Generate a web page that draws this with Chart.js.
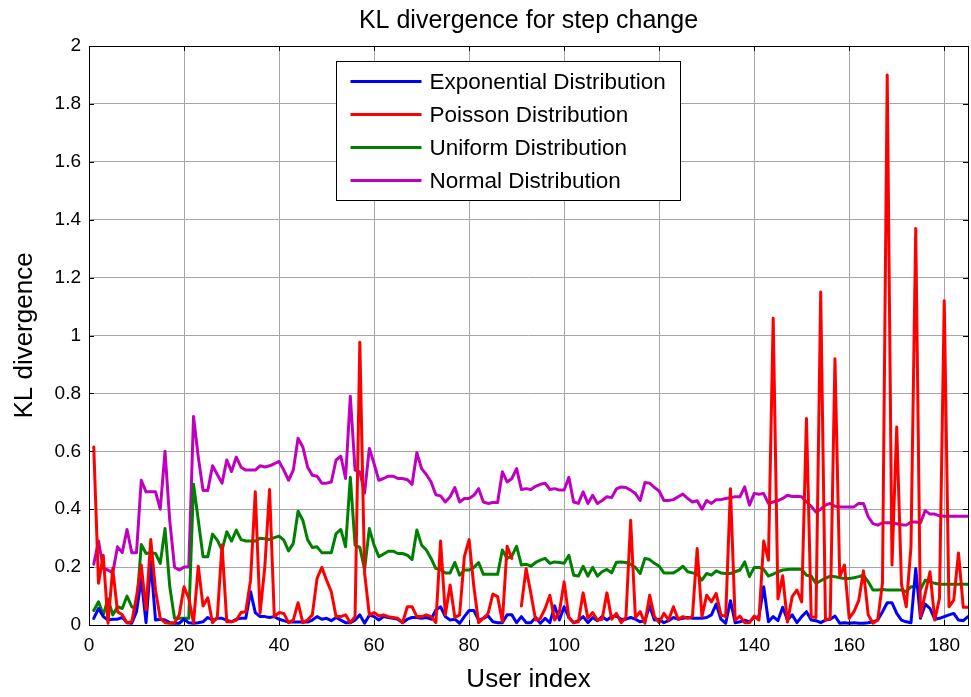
<!DOCTYPE html>
<html>
<head>
<meta charset="utf-8">
<script src="https://cdn.jsdelivr.net/npm/chart.js@4.4.1/dist/chart.umd.min.js"></script>
<style>
  html, body { margin: 0; padding: 0; background: #ffffff; }
  #wrap { width: 971px; height: 697px; position: relative; }
</style>
</head>
<body>
<div id="wrap"><canvas id="c" width="971" height="697"></canvas></div>
<script>
// ---------- data ----------
const userIndex = Array.from({ length: 185 }, (_, k) => k + 1);

const seriesLabels = ['Exponential Distribution', 'Poisson Distribution', 'Uniform Distribution', 'Normal Distribution'];

const exponential = [
  0.023,0.057,0.029,0.017,0.02,0.02,0.026,0.008,0.006,0.046,
  0.16,0.008,0.22,0.017,0.02,0.017,0.008,0.006,0.006,0.02,
  0.008,0.006,0.008,0.011,0.026,0.017,0.023,0.023,0.017,0.011,
  0.02,0.023,0.023,0.115,0.043,0.029,0.029,0.026,0.029,0.02,
  0.015,0.01,0.01,0.01,0.01,0.01,0.017,0.029,0.02,0.023,
  0.015,0.026,0.017,0.008,0.008,0.017,0.035,0.006,0.034,0.029,
  0.017,0.029,0.026,0.023,0.02,0.008,0.02,0.026,0.026,0.023,
  0.026,0.02,0.052,0.063,0.029,0.017,0.02,0.006,0.029,0.05,
  0.05,0.017,0.023,0.031,0.011,0.008,0.008,0.035,0.035,0.008,
  0.029,0.008,0.008,0.026,0.006,0.023,0.008,0.066,0.017,0.063,
  0.026,0.008,0.015,0.029,0.008,0.026,0.015,0.029,0.017,0.029,
  0.031,0.02,0.02,0.026,0.02,0.011,0.015,0.066,0.017,0.02,
  0.008,0.015,0.026,0.02,0.023,0.026,0.023,0.023,0.023,0.026,
  0.035,0.072,0.02,0.006,0.084,0.008,0.011,0.017,0.011,0.026,
  0.029,0.132,0.011,0.029,0.015,0.061,0.017,0.035,0.008,0.029,
  0.046,0.017,0.015,0.008,0.017,0.02,0.031,0.006,0.008,0.006,
  0.008,0.006,0.006,0.008,0.011,0.017,0.046,0.077,0.077,0.04,
  0.017,0.011,0.008,0.195,0.023,0.072,0.057,0.02,0.023,0.029,
  0.035,0.04,0.017,0.015,0.029
];

const poisson = [
  0.615,0.144,0.241,0.006,0.195,0.046,0.035,0.008,0.011,0.098,
  0.207,0.052,0.295,0.12,0.023,0.008,0.006,0.008,0.035,0.132,
  0.092,0.008,0.203,0.066,0.094,0.008,0.026,0.276,0.011,0.011,
  0.017,0.043,0.046,0.155,0.46,0.04,0.2,0.468,0.029,0.043,
  0.04,0.008,0.017,0.077,0.008,0.017,0.035,0.161,0.199,0.155,
  0.115,0.029,0.029,0.035,0.008,0.029,0.977,0.18,0.035,0.043,
  0.031,0.035,0.029,0.026,0.023,0.008,0.063,0.063,0.029,0.029,
  0.035,0.029,0.008,0.29,0.035,0.138,0.026,0.035,0.236,0.295,
  0.132,0.008,0.023,0.04,0.107,0.098,0.011,0.272,0.23,null,
  0.066,0.195,0.109,0.017,0.023,0.057,0.103,0.017,0.046,0.149,
  0.026,0.008,0.011,0.111,0.023,0.043,0.017,0.02,0.111,0.02,
  0.04,0.008,0.026,0.362,0.026,0.046,0.006,0.103,0.029,0.008,
  0.04,0.017,0.063,0.02,0.029,0.023,0.029,0.264,0.029,0.103,
  0.08,0.109,0.035,0.029,0.471,0.017,0.031,0.008,0.008,0.031,
  0.017,0.29,0.224,1.06,0.09,0.17,0.01,0.098,0.121,0.08,
  0.713,0.029,0.026,1.15,0.017,0.023,0.92,0.167,0.207,0.023,
  0.046,0.084,0.187,0.035,0.006,0.017,0.144,1.90,0.207,0.684,
  0.141,0.063,0.27,1.37,0.029,0.109,0.184,0.017,0.092,1.12,
  0.063,0.086,0.249,0.061,0.061
];

const uniform = [
  0.05,0.08,0.035,0.09,0.035,0.063,0.057,0.10,0.063,0.057,
  0.278,0.247,0.25,0.247,0.213,0.333,0.132,0.023,0.023,0.023,
  0.023,0.486,0.362,0.236,0.236,0.314,0.293,0.259,0.322,0.29,
  0.328,0.295,0.29,0.29,0.29,0.30,0.298,0.295,0.302,0.307,
  0.293,0.256,0.282,0.393,0.362,0.295,0.268,0.27,0.25,0.25,
  0.25,0.316,0.33,0.27,0.51,0.276,0.268,0.192,0.333,0.276,
  0.236,0.245,0.255,0.255,0.247,0.247,0.241,0.226,0.328,0.276,
  0.259,0.23,0.195,0.192,0.18,0.18,0.216,0.172,0.19,0.19,
  0.199,0.216,0.175,0.175,0.175,0.175,0.259,0.23,0.238,0.272,
  0.207,0.21,0.203,0.216,0.224,0.23,0.213,0.218,0.216,0.213,
  0.241,0.172,0.169,0.203,0.169,0.199,0.169,0.184,0.192,0.18,
  0.217,0.218,0.216,0.21,0.199,0.178,0.23,0.226,0.213,0.203,
  0.18,0.18,0.18,0.19,0.203,0.184,0.18,0.176,0.155,0.178,
  0.172,0.187,0.18,0.178,0.178,0.184,0.19,0.218,0.167,0.199,
  0.199,0.192,0.169,0.176,0.184,0.19,0.192,0.193,0.193,0.192,
  0.172,0.169,0.144,0.153,0.161,0.169,0.167,0.163,0.161,0.161,
  0.163,0.167,0.172,0.149,0.121,0.121,0.123,0.121,0.121,0.121,
  0.121,0.115,0.132,0.132,0.123,0.155,0.149,0.144,0.141,0.141,
  0.141,0.141,0.141,0.141,0.141
];

const normal = [
  0.21,0.29,0.195,0.19,0.18,0.27,0.25,0.33,0.25,0.25,
  0.50,0.46,0.46,0.46,0.40,0.60,0.36,0.20,0.19,0.20,
  0.20,0.72,0.58,0.465,0.465,0.55,0.52,0.49,0.57,0.53,
  0.58,0.545,0.535,0.535,0.535,0.55,0.546,0.55,0.557,0.565,
  0.535,0.50,0.535,0.645,0.615,0.546,0.517,0.514,0.49,0.49,
  0.494,0.57,0.583,0.506,0.79,0.535,0.529,0.456,0.61,0.557,
  0.50,0.506,0.514,0.514,0.506,0.506,0.502,0.486,0.595,0.54,
  0.52,0.494,0.45,0.446,0.425,0.443,0.475,0.425,0.437,0.437,
  0.448,0.471,0.425,0.42,0.423,0.423,0.529,0.494,0.506,0.54,
  0.468,0.471,0.468,0.479,0.486,0.49,0.468,0.471,0.466,0.466,
  0.51,0.425,0.42,0.46,0.42,0.448,0.42,0.43,0.443,0.44,
  0.47,0.477,0.475,0.466,0.454,0.43,0.492,0.49,0.475,0.463,
  0.43,0.43,0.433,0.443,0.452,0.437,0.425,0.429,0.40,0.43,
  0.42,0.433,0.433,0.437,0.44,0.443,0.443,0.477,0.414,0.454,
  0.452,0.454,0.42,0.425,0.43,0.437,0.448,0.444,0.445,0.443,
  0.425,0.41,0.39,0.40,0.414,0.42,0.41,0.408,0.408,0.408,
  0.408,0.42,0.42,0.374,0.35,0.345,0.353,0.353,0.353,0.35,
  0.346,0.345,0.356,0.356,0.353,0.395,0.383,0.383,0.377,0.376,
  0.376,0.376,0.376,0.376,0.376
];

const xTickValues = [0, 20, 40, 60, 80, 100, 120, 140, 160, 180];
const yTickValues = [0, 0.2, 0.4, 0.6, 0.8, 1, 1.2, 1.4, 1.6, 1.8, 2];
const yTickLabels = ['0', '0.2', '0.4', '0.6', '0.8', '1', '1.2', '1.4', '1.6', '1.8', '2'];

// ---------- styling ----------
const FONT = '"Liberation Sans", Arial, Helvetica, sans-serif';
const colors = ['#0000ff', '#ff0000', '#008000', '#bf00bf'];
const drawOrder = [1, 0, 2, 3];
const seriesData = [exponential, poisson, uniform, normal];

const datasets = seriesLabels.map((lab, k) => ({
  label: lab,
  data: userIndex.map((x, j) => ({ x: x, y: seriesData[k][j] })),
  borderColor: colors[k],
  backgroundColor: colors[k],
  borderWidth: 3,
  pointRadius: 0,
  tension: 0,
  spanGaps: false,
  order: drawOrder[k],
  borderJoinStyle: 'round',
  borderCapStyle: 'round'
}));

const matlabFrame = {
  id: 'matlabFrame',
  afterDraw(chart) {
    const { ctx, chartArea: a, scales } = chart;
    ctx.save();
    ctx.strokeStyle = '#000';
    ctx.lineWidth = 1;
    const L = 5;
    ctx.beginPath();
    xTickValues.forEach(v => {
      const px = Math.round(scales.x.getPixelForValue(v)) + 0.5;
      ctx.moveTo(px, a.bottom); ctx.lineTo(px, a.bottom - L);
      ctx.moveTo(px, a.top); ctx.lineTo(px, a.top + L);
    });
    yTickValues.forEach(v => {
      const py = Math.round(scales.y.getPixelForValue(v)) + 0.5;
      ctx.moveTo(a.left, py); ctx.lineTo(a.left + L, py);
      ctx.moveTo(a.right, py); ctx.lineTo(a.right - L, py);
    });
    ctx.stroke();
    ctx.strokeRect(Math.round(a.left) + 0.5, Math.round(a.top) + 0.5,
                   Math.round(a.right - a.left), Math.round(a.bottom - a.top));

    // legend box
    const lx = Math.round(a.left + 247) + 0.5, ly = Math.round(a.top + 15) + 0.5;
    const lw = 344, lh = 139;
    ctx.fillStyle = '#fff';
    ctx.fillRect(lx, ly, lw, lh);
    ctx.strokeStyle = '#000';
    ctx.lineWidth = 1;
    ctx.strokeRect(lx, ly, lw, lh);
    ctx.font = '22.5px ' + FONT;
    ctx.textBaseline = 'middle';
    ctx.textAlign = 'left';
    chart.data.datasets.forEach((ds, k) => {
      const ry = ly + 20 + k * 33;
      ctx.strokeStyle = ds.borderColor;
      ctx.lineWidth = 3;
      ctx.beginPath();
      ctx.moveTo(lx + 14, ry); ctx.lineTo(lx + 85, ry);
      ctx.stroke();
      ctx.fillStyle = '#000';
      ctx.fillText(ds.label, lx + 93, ry + 1);
    });
    ctx.restore();
  }
};

new Chart(document.getElementById('c'), {
  type: 'line',
  data: { datasets: datasets },
  plugins: [matlabFrame],
  options: {
    responsive: false,
    animation: false,
    devicePixelRatio: 1,
    layout: { padding: { left: 0, right: 3, top: 0, bottom: 0 } },
    plugins: {
      legend: { display: false },
      tooltip: { enabled: false },
      title: {
        display: true,
        text: 'KL divergence for step change',
        color: '#000',
        fullSize: false,
        font: { family: FONT, size: 25, weight: 'normal' },
        padding: { top: 6, bottom: 10 }
      }
    },
    scales: {
      x: {
        type: 'linear',
        min: 0,
        max: 185,
        afterBuildTicks(scale) { scale.ticks = xTickValues.map(v => ({ value: v })); },
        afterFit(scale) { scale.height = 72; },
        grid: { color: '#a6a6a6', lineWidth: 1, drawTicks: false },
        border: { display: false },
        ticks: { color: '#000', font: { family: FONT, size: 19 }, padding: 9, maxRotation: 0 },
        title: {
          display: true, text: 'User index', color: '#000',
          font: { family: FONT, size: 26 }, padding: { top: 0, bottom: 2 }
        }
      },
      y: {
        type: 'linear',
        min: 0,
        max: 2,
        afterBuildTicks(scale) { scale.ticks = yTickValues.map(v => ({ value: v })); },
        afterFit(scale) { scale.width = 89; },
        grid: { color: '#a6a6a6', lineWidth: 1, drawTicks: false },
        border: { display: false },
        ticks: {
          color: '#000', font: { family: FONT, size: 19 }, padding: 8,
          callback: (v) => yTickLabels[yTickValues.indexOf(v)] ?? String(v)
        },
        title: {
          display: true, text: 'KL divergence', color: '#000',
          font: { family: FONT, size: 26 }, padding: { top: 9, bottom: 0 }
        }
      }
    }
  }
});
</script>
</body>
</html>
